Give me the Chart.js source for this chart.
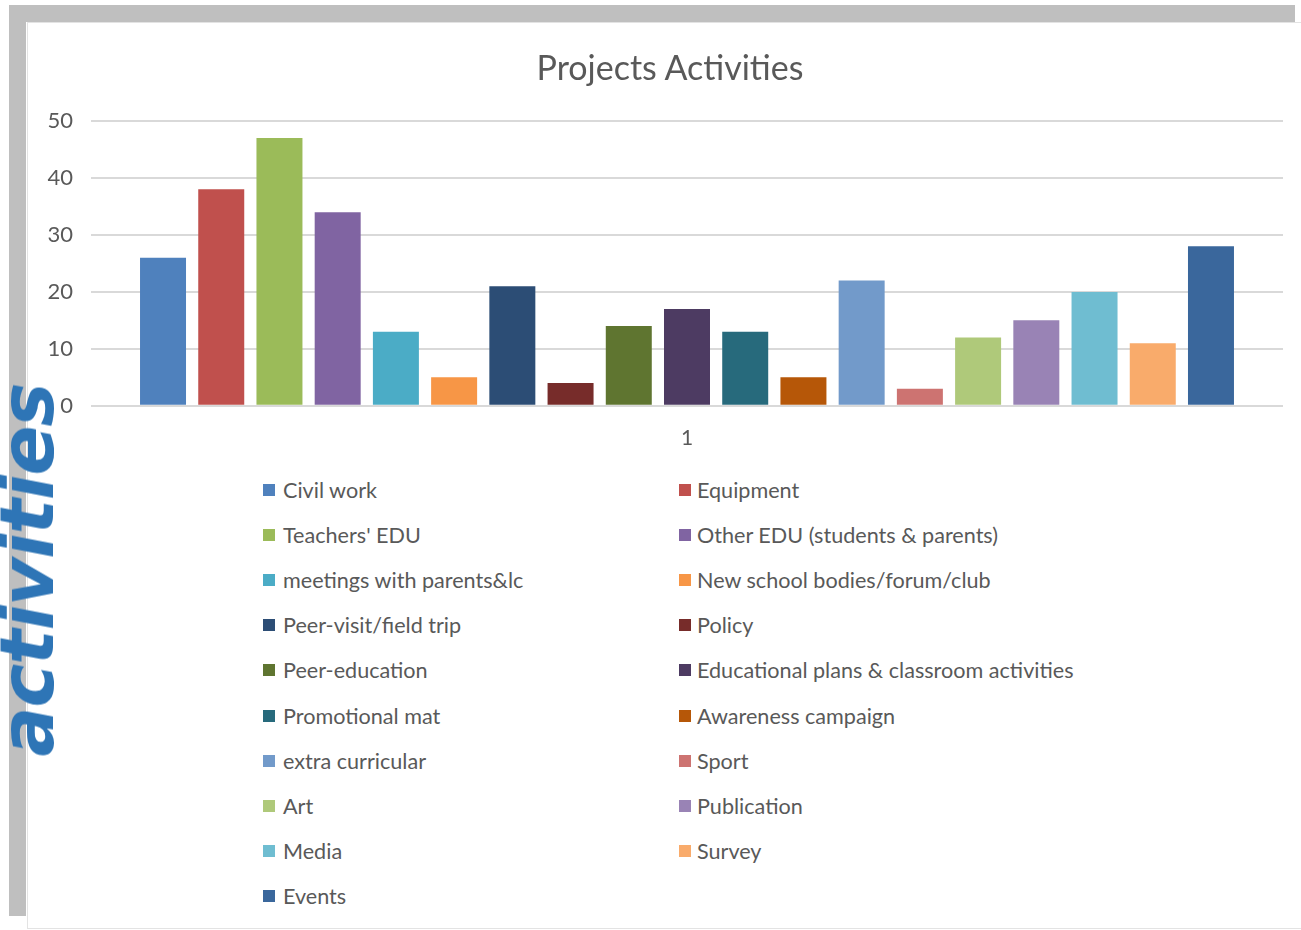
<!DOCTYPE html>
<html><head><meta charset="utf-8">
<script src="https://cdn.jsdelivr.net/npm/chart.js@4"></script>
<style>
body{margin:0;background:#fff;width:1301px;height:930px;overflow:hidden;position:relative;font-family:Lato,"Open Sans",sans-serif;}
#gl{position:absolute;left:9px;top:5px;width:17px;height:911px;background:#bfbfbf;}
#gt{position:absolute;left:9px;top:5px;width:1286px;height:17px;background:#bfbfbf;}
#panel{position:absolute;left:27px;top:22px;width:1274px;height:907px;background:#fff;border-left:1px solid #e3e3e3;border-top:1px solid #e3e3e3;border-bottom:1px solid #e3e3e3;box-sizing:border-box;}
#wrap{position:absolute;left:28px;top:23px;width:1272px;height:440px;}
#title{position:absolute;left:370px;width:600px;top:47px;height:40px;line-height:40px;text-align:center;font-size:34px;color:#595959;}
#legend{position:absolute;left:0;top:0;}
.li{position:absolute;height:24px;line-height:24px;font-size:21.6px;color:#595959;white-space:nowrap;}
.li span.sw{position:absolute;left:0;top:6px;width:12px;height:12px;}
.li span.tx{position:absolute;top:0;}
#script{position:absolute;left:27px;top:570px;transform:translate(-50%,-50%) rotate(-90deg);font:italic 700 74px "DejaVu Sans",sans-serif;color:#2e75b6;white-space:nowrap;letter-spacing:-1px;}
</style></head>
<body>
<div id="gl"></div><div id="gt"></div>
<div id="panel"></div>
<div id="wrap"><canvas id="c" width="1272" height="440"></canvas></div>
<div id="title"></div>
<div id="legend"></div>
<div id="script">activities</div>
<script>
const chartTitle = "Projects Activities";
const categories = ["1"];
const seriesNames = ["Civil work","Equipment","Teachers' EDU","Other EDU (students & parents)","meetings with parents&lc","New school bodies/forum/club","Peer-visit/field trip","Policy","Peer-education","Educational plans & classroom activities","Promotional mat","Awareness campaign","extra curricular","Sport","Art","Publication","Media","Survey","Events"];
const seriesValues = [26,38,47,34,13,5,21,4,14,17,13,5,22,3,12,15,20,11,28];
const seriesColors = ["#4F81BD","#C0504D","#9BBB59","#8064A2","#4BACC6","#F79646","#2C4D75","#772C2A","#5F7530","#4D3B62","#276A7C","#B65708","#729ACA","#CD7371","#AFC97A","#9983B5","#6FBDD1","#F9AB6B","#3A679C"];
const yTicks = [0,10,20,30,40,50];

document.getElementById('title').textContent = chartTitle;

const datasets = seriesNames.map((n,i)=>({label:n,data:[seriesValues[i]],backgroundColor:seriesColors[i],borderWidth:0,categoryPercentage:0.928,barPercentage:0.79}));

const chart = new Chart(document.getElementById('c'),{
  type:'bar',
  data:{labels:categories,datasets},
  options:{
    responsive:false,animation:false,
    layout:{padding:{top:98,right:17,bottom:0,left:0}},
    plugins:{
      legend:{display:false},
      tooltip:{enabled:false},
      title:{display:false}
    },
    scales:{
      x:{grid:{display:false},border:{display:false},ticks:{color:'#595959',font:{family:'Lato',size:21},padding:12}},
      y:{min:0,max:50,afterFit:s=>{s.width=63;},
         afterBuildTicks:s=>{s.ticks=yTicks.map(v=>({value:v}));},
         grid:{color:'#d9d9d9',lineWidth:2,drawTicks:false},border:{display:false},
         ticks:{color:'#595959',font:{family:'Lato',size:22},padding:18}}
    }
  }
});

const lg=document.getElementById('legend');
seriesNames.forEach((n,i)=>{
  const col=i%2,row=Math.floor(i/2);
  const d=document.createElement('div');d.className='li';
  d.style.left=(col?679:263)+'px';d.style.top=(478+row*45.1)+'px';
  d.innerHTML='<span class="sw" style="background:'+seriesColors[i]+'"></span><span class="tx" style="left:'+(col?18:20)+'px"></span>';
  d.querySelector('.tx').textContent=n;
  lg.appendChild(d);
});
</script>
</body></html>
